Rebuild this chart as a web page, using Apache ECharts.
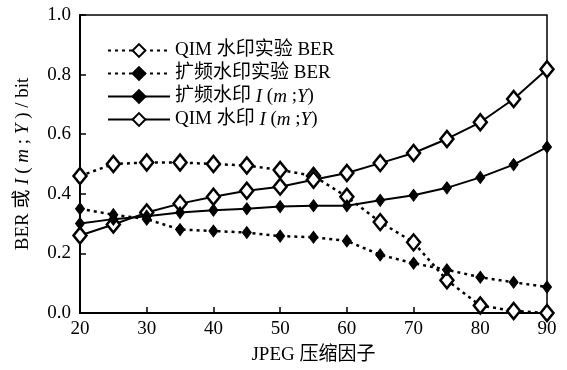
<!DOCTYPE html>
<html><head><meta charset="utf-8">
<script src="https://cdn.jsdelivr.net/npm/echarts@6/dist/echarts.min.js"></script>
<style>html,body{margin:0;padding:0;background:#fff}#c{width:567px;height:370px}</style>
</head><body><div id="c"></div>
<script>
const xValues = [20,25,30,35,40,45,50,55,60,65,70,75,80,85,90];
const qimBER = [0.46,0.50,0.505,0.505,0.50,0.495,0.48,0.46,0.39,0.305,0.237,0.11,0.025,0.007,0.0];
const ssBER = [0.35,0.33,0.315,0.28,0.275,0.27,0.258,0.254,0.242,0.195,0.167,0.145,0.12,0.103,0.087];
const ssI = [0.30,0.315,0.325,0.337,0.345,0.35,0.357,0.36,0.36,0.378,0.395,0.42,0.455,0.498,0.557];
const qimI = [0.26,0.297,0.337,0.367,0.39,0.41,0.424,0.447,0.47,0.503,0.537,0.584,0.64,0.718,0.818];
const yTicks = [0.0,0.2,0.4,0.6,0.8,1.0];
const xTicks = [20,30,40,50,60,70,80,90];
const names = ['QIM 水印实验 BER','扩频水印实验 BER','扩频水印 I(m;Y)','QIM 水印 I(m;Y)'];

const FF = "'Liberation Serif','DejaVu Serif','Noto Sans CJK SC',serif";
const FS = 19;
const pair = a => xValues.map((x,i)=>[x,a[i]]);
function mk(name, data, dotted, open){
  return {
    name, type:'line', data:pair(data), symbol:'diamond',
    symbolSize: open ? [13,16] : [9,12],
    lineStyle:{color:'#000', width: dotted?2.5:2, type: dotted?[3,4]:'solid'},
    itemStyle:{color: open?'#fff':'#000', borderColor:'#000', borderWidth: open?2.5:1},
    z: open?3:4
  };
}
const chart = echarts.init(document.getElementById('c'));
chart.setOption({
  animation:false,
  backgroundColor:'#fff',
  textStyle:{fontFamily:FF},
  grid:{left:80,right:20,top:15,bottom:56,show:true,borderColor:'#000',borderWidth:1.5},
  legend:{
    left:102, top:36, orient:'vertical', itemGap:4, itemWidth:62, itemHeight:16,
    textStyle:{fontFamily:FF,fontSize:FS,color:'#000',
      rich:{i:{fontStyle:'italic',fontFamily:FF,fontSize:FS}}},
    formatter: n => n.replace('I(m;Y)','{i|I} ({i|m} ;{i|Y})'),
    data: names
  },
  xAxis:{
    type:'value', min:20, max:90, interval:10,
    name:'JPEG 压缩因子', nameLocation:'middle', nameGap:33,
    nameTextStyle:{fontFamily:FF,fontSize:FS,color:'#000'},
    axisLine:{lineStyle:{color:'#000',width:2}},
    axisTick:{inside:true,length:6,lineStyle:{color:'#000',width:1.5}},
    axisLabel:{color:'#000',fontSize:FS,fontFamily:FF,margin:7,
      formatter:v=> xTicks.includes(v)? String(v):''},
    splitLine:{show:false}
  },
  yAxis:{
    type:'value', min:0, max:1, interval:0.2,
    name:'BER 或 {i|I} ( {i|m} ; {i|Y} ) / bit', nameLocation:'middle', nameGap:47, nameRotate:90,
    nameTextStyle:{fontFamily:FF,fontSize:FS,color:'#000',
      rich:{i:{fontStyle:'italic',fontFamily:FF,fontSize:FS,color:'#000'}}},
    axisLine:{lineStyle:{color:'#000',width:2}},
    axisTick:{inside:true,length:6,lineStyle:{color:'#000',width:1.5}},
    axisLabel:{color:'#000',fontSize:FS,fontFamily:FF,margin:9,
      formatter:v=> yTicks.some(t=>Math.abs(t-v)<1e-6)? v.toFixed(1):''},
    splitLine:{show:false}
  },
  series:[
    mk(names[0], qimBER, true, true),
    mk(names[1], ssBER, true, false),
    mk(names[2], ssI, false, false),
    mk(names[3], qimI, false, true)
  ]
});
</script></body></html>
